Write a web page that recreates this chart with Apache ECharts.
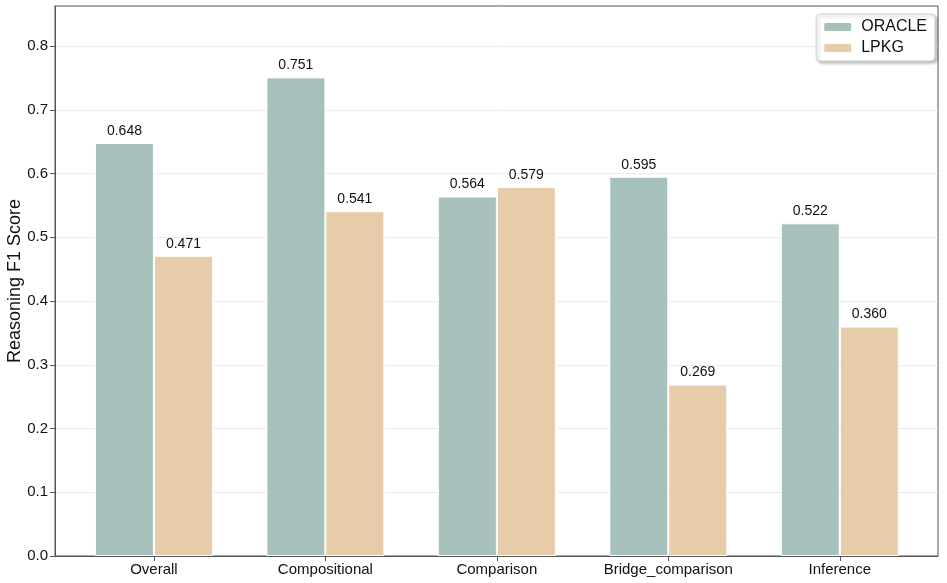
<!DOCTYPE html>
<html>
<head>
<meta charset="utf-8">
<script src="https://cdn.jsdelivr.net/npm/echarts@6/dist/echarts.min.js"></script>
<style>html,body{margin:0;padding:0;background:#fff;}#c{width:947px;height:583px;}</style>
</head>
<body>
<div id="c"></div>
<script>
const categories = ['Overall', 'Compositional', 'Comparison', 'Bridge_comparison', 'Inference'];
const oracleValues = [0.648, 0.751, 0.564, 0.595, 0.522];
const lpkgValues = [0.471, 0.541, 0.579, 0.269, 0.360];
const yTicks = [0, 0.1, 0.2, 0.3, 0.4, 0.5, 0.6, 0.7, 0.8];

const chart = echarts.init(document.getElementById('c'), null, {renderer: 'canvas'});
const font = 'Liberation Sans, Arial, sans-serif';
const idx = categories.map((_, i) => i);

chart.setOption({
  animation: false,
  backgroundColor: '#fff',
  grid: {left: 55, right: 9, top: 6, bottom: 27, show: true, borderColor: '#555', borderWidth: 1, containLabel: false, outerBoundsMode: 'none'},
  legend: {
    orient: 'vertical', right: 12, top: 14,
    itemWidth: 29, itemHeight: 10, itemGap: 5,
    padding: [5, 8, 5, 6],
    backgroundColor: '#fff', borderColor: '#d0d0d0', borderWidth: 1, borderRadius: 4,
    shadowColor: 'rgba(0,0,0,0.25)', shadowBlur: 3, shadowOffsetX: 2, shadowOffsetY: 2,
    textStyle: {fontFamily: font, fontSize: 16, color: '#111', padding: [0, 0, 0, 4]},
    data: ['ORACLE', 'LPKG']
  },
  xAxis: {
    type: 'value', min: -0.577, max: 4.573,
    splitLine: {show: false},
    axisLine: {show: true, onZero: false, lineStyle: {color: '#555'}},
    axisTick: {show: true, customValues: idx, length: 5, lineStyle: {color: '#555'}},
    axisLabel: {customValues: idx, formatter: v => categories[Math.round(v)], fontFamily: font, fontSize: 15, color: '#111', margin: 6}
  },
  yAxis: {
    type: 'value', min: 0, max: 0.863, interval: 0.1,
    name: 'Reasoning F1 Score', nameLocation: 'middle', nameGap: 31, nameMoveOverlap: false,
    nameTextStyle: {fontFamily: font, fontSize: 18, color: '#111'},
    axisLine: {show: true, onZero: false, lineStyle: {color: '#555'}},
    axisTick: {show: true, customValues: yTicks, length: 5, lineStyle: {color: '#555'}},
    axisLabel: {customValues: yTicks, formatter: v => v.toFixed(1), fontFamily: font, fontSize: 15, color: '#111', margin: 7},
    splitLine: {show: true, lineStyle: {color: '#ececec', width: 1}}
  },
  series: [
    {
      name: 'ORACLE', type: 'bar', barWidth: 59, barGap: '0%',
      data: oracleValues.map((v, i) => [i, v]),
      itemStyle: {color: '#a6c0bb', borderColor: '#fff', borderWidth: 1},
      label: {show: true, position: 'top', distance: 5, formatter: p => p.value[1].toFixed(3), fontFamily: font, fontSize: 14, color: '#111'}
    },
    {
      name: 'LPKG', type: 'bar', barWidth: 59, barGap: '0%',
      data: lpkgValues.map((v, i) => [i, v]),
      itemStyle: {color: '#e7cca9', borderColor: '#fff', borderWidth: 1},
      label: {show: true, position: 'top', distance: 5, formatter: p => p.value[1].toFixed(3), fontFamily: font, fontSize: 14, color: '#111'}
    }
  ]
});
</script>
</body>
</html>
